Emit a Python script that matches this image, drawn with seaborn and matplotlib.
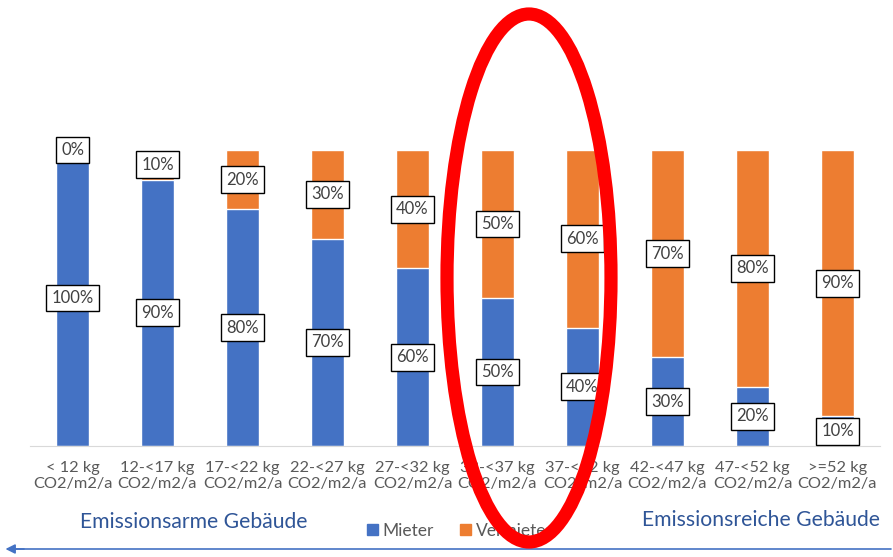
import matplotlib.pyplot as plt
import pandas as pd
import seaborn as sns
from matplotlib.patches import Ellipse, Patch

categories = ["< 12 kg\nCO2/m2/a", "12-<17 kg\nCO2/m2/a", "17-<22 kg\nCO2/m2/a",
              "22-<27 kg\nCO2/m2/a", "27-<32 kg\nCO2/m2/a", "32-<37 kg\nCO2/m2/a",
              "37-<42 kg\nCO2/m2/a", "42-<47 kg\nCO2/m2/a", "47-<52 kg\nCO2/m2/a",
              ">=52 kg\nCO2/m2/a"]
mieter = [100, 90, 80, 70, 60, 50, 40, 30, 20, 10]
vermieter = [0, 10, 20, 30, 40, 50, 60, 70, 80, 90]
series_names = ["Mieter", "Vermieter"]

BLUE = "#4472C4"
ORANGE = "#ED7D31"

sns.set_style("white")
plt.rcParams['font.family'] = ['Lato', 'DejaVu Sans']

df = pd.DataFrame({"cat": categories, "Mieter": mieter, "Vermieter": vermieter})
df["total"] = df["Mieter"] + df["Vermieter"]

fig = plt.figure(figsize=(8.93, 5.57), dpi=100)
ax = fig.add_axes([30 / 893, 111 / 557, 850 / 893, 296 / 557])

# stacked bars: totals first (orange), then the blue part over it
sns.barplot(data=df, x="cat", y="total", color=ORANGE, width=0.39, saturation=1, ax=ax)
sns.barplot(data=df, x="cat", y="Mieter", color=BLUE, width=0.39, saturation=1, ax=ax)

box = dict(boxstyle="square,pad=0.32", fc="white", ec="black", lw=1)
for i, (m, v) in enumerate(zip(mieter, vermieter)):
    ax.text(i, m / 2, f"{m}%", ha="center", va="center", fontsize=12,
            color="#404040", bbox=box, clip_on=False, zorder=5)
    ax.text(i, m + v / 2, f"{v}%", ha="center", va="center", fontsize=12,
            color="#404040", bbox=box, clip_on=False, zorder=5)

ax.set_xlim(-0.5, 9.5)
ax.set_ylim(0, 100)
ax.set_xlabel("")
ax.set_ylabel("")
ax.set_yticks([])
ax.tick_params(axis="x", length=0, labelsize=11.8, labelcolor="#595959", pad=11)
for s in ["top", "right", "left"]:
    ax.spines[s].set_visible(False)
ax.spines["bottom"].set_color("#D9D9D9")

fig.text(80 / 893, 1 - 522 / 557, "Emissionsarme Gebäude", fontsize=15.2,
         color="#2F5597", ha="left", va="center")
fig.text(880 / 893, 1 - 520 / 557, "Emissionsreiche Gebäude", fontsize=15.2,
         color="#2F5597", ha="right", va="center")

handles = [Patch(color=BLUE, label=series_names[0]), Patch(color=ORANGE, label=series_names[1])]
fig.legend(handles=handles, loc="center", bbox_to_anchor=(460 / 893, 1 - 531 / 557),
           ncol=2, frameon=False, fontsize=12.5, handlelength=0.6, handleheight=0.6,
           handletextpad=0.3, columnspacing=1.5, labelcolor="#595959")

# arrow along the bottom
fig.add_artist(plt.Line2D([12 / 893, 891 / 893], [1 - 549 / 557] * 2, color=BLUE, lw=1.2))
ax.annotate("", xy=(0.003, 1 - 549 / 557), xytext=(0.03, 1 - 549 / 557),
            xycoords="figure fraction",
            arrowprops=dict(arrowstyle="-|>", color=BLUE, lw=1.2, mutation_scale=14))

# red highlight ellipse
fig.add_artist(Ellipse((529 / 893, 1 - 278 / 557), 164 / 893, 528 / 557,
                       fill=False, ec="red", lw=9.5, zorder=10))

fig.savefig("out.png", dpi=100)
